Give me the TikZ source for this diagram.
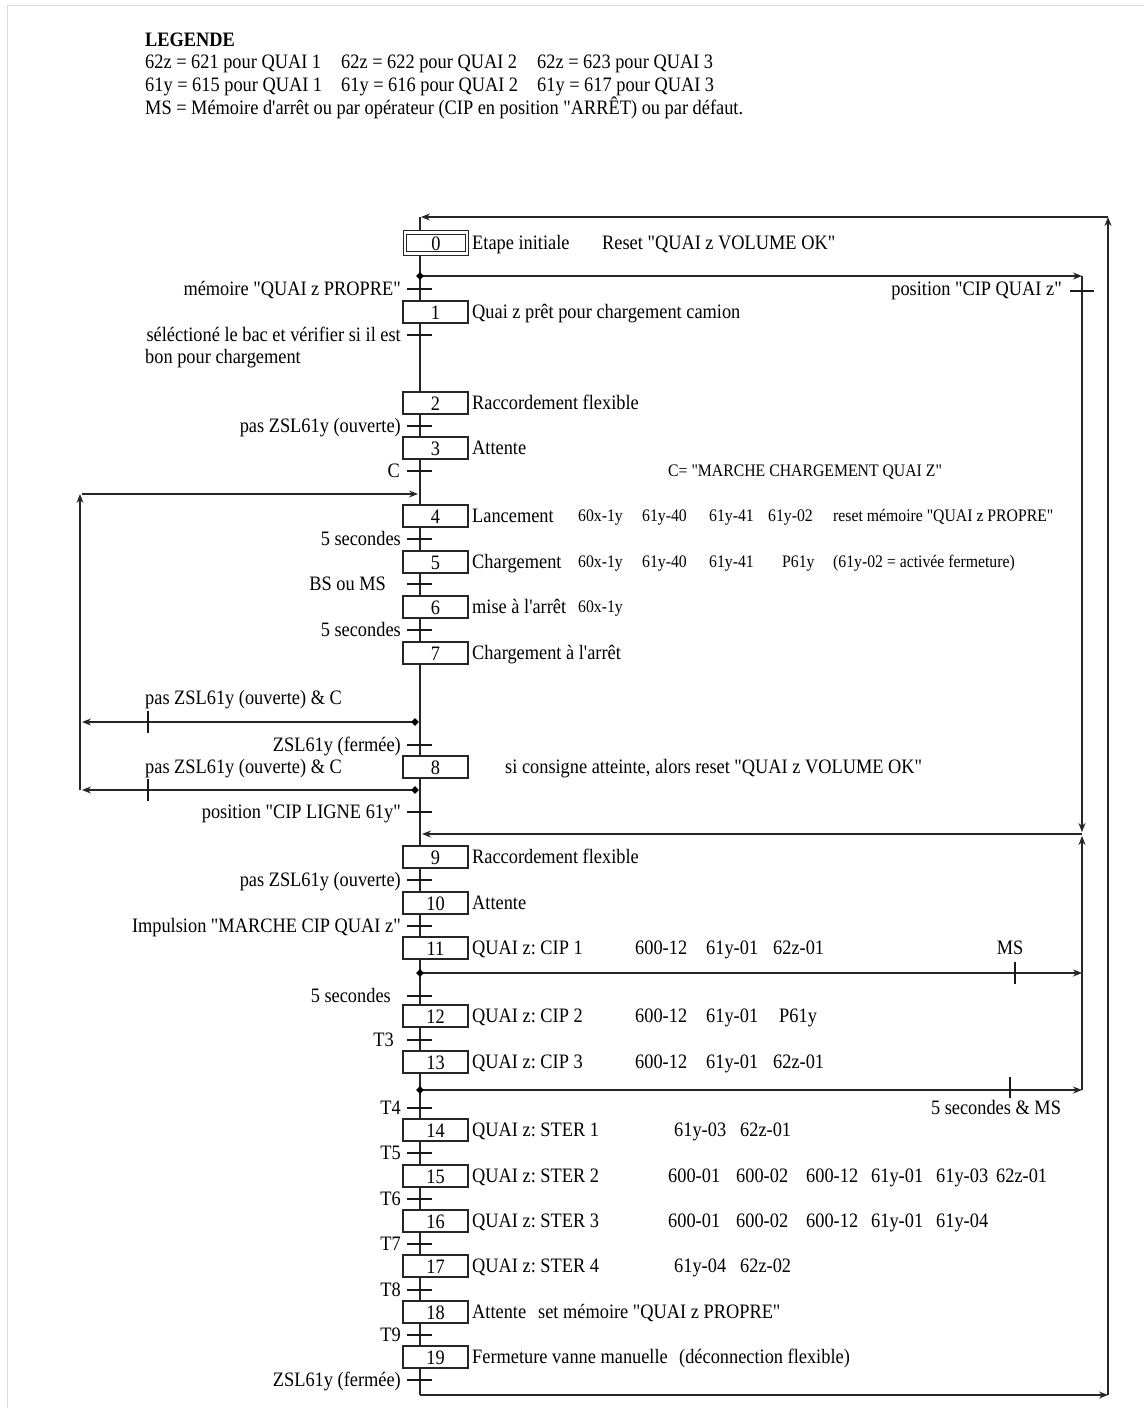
\documentclass[tikz,border=0pt]{standalone}
\usepackage{fontspec}
\setmainfont{Liberation Serif}[FakeStretch=0.895,Ligatures=TeXOff]
\usetikzlibrary{arrows.meta,shapes.geometric}
\newcommand\mynormal{\fontsize{20.5}{24}\selectfont}
\newcommand\mysmall{\fontsize{17.6}{21}\selectfont}
\frenchspacing
\begin{document}
\frenchspacing
\begin{tikzpicture}[x=1pt,y=-1pt,
  ln/.style={line width=1.2pt, draw=black!85},
  arr/.style={ln,-{Stealth[length=9pt,width=7pt]}},
  tick/.style={line width=2pt, draw=black!90},
  stepbox/.style={draw=black!85, line width=1.2pt, fill=white, minimum width=65pt, minimum height=22pt, inner sep=0pt, font=\mynormal, text height=14pt, text depth=0pt},
  txt/.style={inner sep=0pt, anchor=west, font=\mynormal, text height=14pt, text depth=2pt},
  lbl/.style={inner sep=0pt, anchor=east, font=\mynormal, text height=14pt, text depth=2pt},
  sml/.style={inner sep=0pt, anchor=west, font=\mysmall, text height=12.5pt, text depth=1.5pt},
  junc/.style={diamond, fill=black, inner sep=0pt, minimum size=8pt}
]
\useasboundingbox (0,0) rectangle (1144,1408);
\draw[gray!30, line width=1pt] (7,1408) -- (7,5) -- (1144,5);

% legend
\node[txt, font=\mynormal\bfseries] (leg) at (145,40) {LEGENDE};
\node[txt] (l1a) at (145,62) {62z = 621 pour QUAI 1};
\node[txt] (l1b) at (341,62) {62z = 622 pour QUAI 2};
\node[txt] (l1c) at (537,62) {62z = 623 pour QUAI 3};
\node[txt] (l2a) at (145,85) {61y = 615 pour QUAI 1};
\node[txt] (l2b) at (341,85) {61y = 616 pour QUAI 2};
\node[txt] (l2c) at (537,85) {61y = 617 pour QUAI 3};
\node[txt] (l3) at (145,108) {MS = Mémoire d'arrêt ou par opérateur (CIP en position "ARRÊT) ou par défaut.};

% key coordinates
\coordinate (top) at (420,217);
\coordinate (bot) at (420,1395);
\coordinate (rtop) at (1108,217);
\coordinate (rbot) at (1108,1395);
\coordinate (jA) at (420,276);
\coordinate (cA) at (1082,276);
\coordinate (cM) at (1082,834);
\coordinate (cMin) at (422,834);
\coordinate (cMlow) at (1082,836);
\coordinate (jB) at (420,973);
\coordinate (cB) at (1082,973);
\coordinate (jC) at (420,1090);
\coordinate (cC) at (1082,1090);
\coordinate (jL1) at (415,722);
\coordinate (jL2) at (415,790);
\coordinate (eL1) at (82,722);
\coordinate (eL2) at (82,790);
\coordinate (lvb) at (80,790);
\coordinate (lvt) at (80,494);
\coordinate (lin) at (82,494);
\coordinate (lint) at (418,494);

% main lines
\draw[ln] (top) -- (bot);
\draw[arr] (rtop) -- (421,217);
\draw[arr] (rbot) -- (rtop);
\draw[arr] (bot) -- (rbot);
% right inner loop
\draw[arr] (jA) -- (cA);
\draw[arr] (cA) -- (1082,832);
\draw[arr] (cM) -- (cMin);
\draw[arr] (cC) -- (cMlow);
\draw[arr] (jB) -- (cB);
\draw[arr] (jC) -- (cC);
% left loop
\draw[arr] (jL1) -- (eL1);
\draw[arr] (jL2) -- (eL2);
\draw[arr] (lvb) -- (lvt);
\draw[arr] (lin) -- (lint);

% junction diamonds
\node[junc] (dA) at (jA) {};
\node[junc] (dB) at (jB) {};
\node[junc] (dC) at (jC) {};
\node[junc] (dL1) at (jL1) {};
\node[junc] (dL2) at (jL2) {};

% ticks on branches
\draw[tick] (1070,291) -- (1094,291);
\draw[tick] (148,711) -- (148,733);
\draw[tick] (148,779) -- (148,801);
\draw[tick] (1015,962) -- (1015,984);
\draw[tick] (1010,1077) -- (1010,1098);
\node[lbl] (bCIP) at (1062,289) {position "CIP QUAI z"};
\node[txt] (bL1) at (145,698) {pas ZSL61y (ouverte) \& C};
\node[txt] (bL2) at (145,767) {pas ZSL61y (ouverte) \& C};
\node[txt, anchor=center] (bMS) at (1010,948) {MS};
\node[txt, anchor=center] (b5MS) at (996,1108) {5 secondes \& MS};

% transitions on main line
\foreach \y in {289,335,426,471,539,584,630,745,812,880,926,996,1040,1108,1153,1199,1244,1290,1335,1380}
  \draw[tick] (407,\y) -- (432,\y);
\node[lbl] (t0) at (401,289) {mémoire "QUAI z PROPRE"};
\node[lbl] (t1) at (401,335) {séléctioné le bac et vérifier si il est};
\node[txt] (t1b) at (145,357) {bon pour chargement};
\node[lbl] (t2) at (401,426) {pas ZSL61y (ouverte)};
\node[lbl] (t3) at (400,471) {C};
\node[lbl] (t4) at (401,539) {5 secondes};
\node[lbl] (t5) at (386,584) {BS ou MS};
\node[lbl] (t6) at (401,630) {5 secondes};
\node[lbl] (t7) at (401,745) {ZSL61y (fermée)};
\node[lbl] (t8) at (401,812) {position "CIP LIGNE 61y"};
\node[lbl] (t9) at (401,880) {pas ZSL61y (ouverte)};
\node[lbl] (t10) at (401,926) {Impulsion "MARCHE CIP QUAI z"};
\node[lbl] (t11) at (391,996) {5 secondes};
\node[lbl] (t12) at (394,1040) {T3};
\node[lbl] (t13) at (401,1108) {T4};
\node[lbl] (t14) at (401,1153) {T5};
\node[lbl] (t15) at (401,1199) {T6};
\node[lbl] (t16) at (401,1244) {T7};
\node[lbl] (t17) at (401,1290) {T8};
\node[lbl] (t18) at (401,1335) {T9};
\node[lbl] (t19) at (401,1380) {ZSL61y (fermée)};

% steps
\node[stepbox, minimum width=62pt, minimum height=21pt, double, double distance=2.2pt] (s0) at (436,243) {0};
\foreach \n/\y in {1/312,2/403,3/448,4/516,5/562,6/607,7/653,8/767,9/857,10/903,11/948,12/1016,13/1062,14/1130,15/1176,16/1221,17/1266,18/1312,19/1357}
  \node[stepbox] (s\n) at (435.5,\y) {\n};

% step actions
\node[txt] (a0) at (472,243) {Etape initiale};
\node[txt] (a0b) at (602,243) {Reset "QUAI z VOLUME OK"};
\node[txt] (a1) at (472,312) {Quai z prêt pour chargement camion};
\node[txt] (a2) at (472,403) {Raccordement flexible};
\node[txt] (a3) at (472,448) {Attente};
\node[sml] (cdef) at (668,471) {C= "MARCHE CHARGEMENT QUAI Z"};
\node[txt] (a4) at (472,516) {Lancement};
\node[sml] (a4a) at (578,516) {60x-1y};
\node[sml] (a4b) at (642,516) {61y-40};
\node[sml] (a4c) at (709,516) {61y-41};
\node[sml] (a4d) at (768,516) {61y-02};
\node[sml] (a4e) at (833,516) {reset mémoire "QUAI z PROPRE"};
\node[txt] (a5) at (472,562) {Chargement};
\node[sml] (a5a) at (578,562) {60x-1y};
\node[sml] (a5b) at (642,562) {61y-40};
\node[sml] (a5c) at (709,562) {61y-41};
\node[sml] (a5d) at (782,562) {P61y};
\node[sml] (a5e) at (833,562) {(61y-02 = activée fermeture)};
\node[txt] (a6) at (472,607) {mise à l'arrêt};
\node[sml] (a6a) at (578,607) {60x-1y};
\node[txt] (a7) at (472,653) {Chargement à l'arrêt};
\node[txt] (a8) at (505,767) {si consigne atteinte, alors reset "QUAI z VOLUME OK"};
\node[txt] (a9) at (472,857) {Raccordement flexible};
\node[txt] (a10) at (472,903) {Attente};
\node[txt] (a11) at (472,948) {QUAI z: CIP 1};
\node[txt] (a11a) at (635,948) {600-12};
\node[txt] (a11b) at (706,948) {61y-01};
\node[txt] (a11c) at (773,948) {62z-01};
\node[txt] (a12) at (472,1016) {QUAI z: CIP 2};
\node[txt] (a12a) at (635,1016) {600-12};
\node[txt] (a12b) at (706,1016) {61y-01};
\node[txt] (a12c) at (779,1016) {P61y};
\node[txt] (a13) at (472,1062) {QUAI z: CIP 3};
\node[txt] (a13a) at (635,1062) {600-12};
\node[txt] (a13b) at (706,1062) {61y-01};
\node[txt] (a13c) at (773,1062) {62z-01};
\node[txt] (a14) at (472,1130) {QUAI z: STER 1};
\node[txt] (a14a) at (674,1130) {61y-03};
\node[txt] (a14b) at (740,1130) {62z-01};
\node[txt] (a15) at (472,1176) {QUAI z: STER 2};
\node[txt] (a15a) at (668,1176) {600-01};
\node[txt] (a15b) at (736,1176) {600-02};
\node[txt] (a15c) at (806,1176) {600-12};
\node[txt] (a15d) at (871,1176) {61y-01};
\node[txt] (a15e) at (936,1176) {61y-03};
\node[txt] (a15f) at (996,1176) {62z-01};
\node[txt] (a16) at (472,1221) {QUAI z: STER 3};
\node[txt] (a16a) at (668,1221) {600-01};
\node[txt] (a16b) at (736,1221) {600-02};
\node[txt] (a16c) at (806,1221) {600-12};
\node[txt] (a16d) at (871,1221) {61y-01};
\node[txt] (a16e) at (936,1221) {61y-04};
\node[txt] (a17) at (472,1266) {QUAI z: STER 4};
\node[txt] (a17a) at (674,1266) {61y-04};
\node[txt] (a17b) at (740,1266) {62z-02};
\node[txt] (a18) at (472,1312) {Attente};
\node[txt] (a18b) at (538,1312) {set mémoire "QUAI z PROPRE"};
\node[txt] (a19) at (472,1357) {Fermeture vanne manuelle};
\node[txt] (a19b) at (679,1357) {(déconnection flexible)};
\end{tikzpicture}
\end{document}
